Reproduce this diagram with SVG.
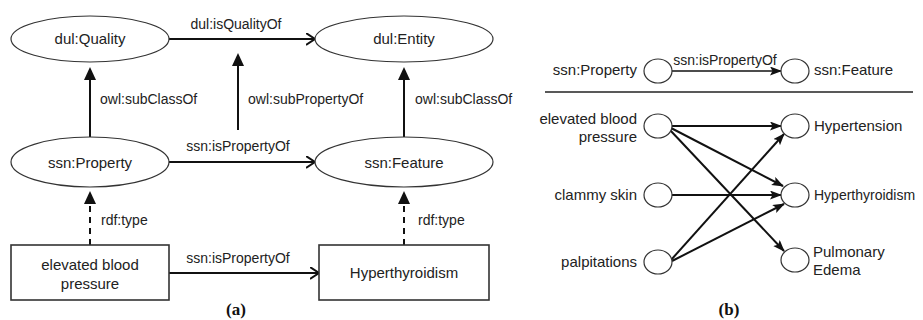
<svg xmlns="http://www.w3.org/2000/svg" width="923" height="320" viewBox="0 0 923 320">
  <style>
    text { font-family: "Liberation Sans", Arial, sans-serif; fill: #222; }
    .node { font-size: 15px; }
    .lbl { font-size: 14px; }
    .mid { text-anchor: middle; }
    .end { text-anchor: end; }
    .cap { font-family: "Liberation Serif", "Times New Roman", serif; font-weight: bold; font-size: 17px; text-anchor: middle; fill: #111; }
    .shape { fill: #fff; stroke: #333; stroke-width: 1.2; }
    .box { fill: #fff; stroke: #333; stroke-width: 1.6; }
    .edge { fill: none; stroke: #111; stroke-width: 2; }
    .dash { stroke-dasharray: 6 5; }
    .thin { stroke-width: 1.6; }
  </style>
  <defs>
    <marker id="tri" markerUnits="userSpaceOnUse" markerWidth="14" markerHeight="14" refX="1" refY="6" orient="auto">
      <path d="M0,0 L13,6 L0,12 z" fill="#111"/>
    </marker>
    <marker id="open" markerUnits="userSpaceOnUse" markerWidth="12" markerHeight="14" refX="9" refY="6" orient="auto">
      <path d="M0,0 L9,6 L0,12" fill="none" stroke="#111" stroke-width="2"/>
    </marker>
    <marker id="dart" markerUnits="userSpaceOnUse" markerWidth="13" markerHeight="10" refX="11" refY="4.5" orient="auto">
      <path d="M0,0 L12,4.5 L0,9 L2.5,4.5 z" fill="#111"/>
    </marker>
  </defs>

  <!-- (a) connectors -->
  <g id="edges-a">
    <path class="edge" d="M169,39 H315" marker-end="url(#open)"/>
    <text class="lbl mid" x="236" y="29">dul:isQualityOf</text>

    <path class="edge" d="M90,137 V79" marker-end="url(#tri)"/>
    <text class="lbl" x="100" y="104">owl:subClassOf</text>

    <path class="edge" d="M238,130 V65" marker-end="url(#tri)"/>
    <text class="lbl" x="248" y="104">owl:subPropertyOf</text>

    <path class="edge" d="M404,137 V79" marker-end="url(#tri)"/>
    <text class="lbl" x="415" y="104">owl:subClassOf</text>

    <path class="edge" d="M169,162 H315" marker-end="url(#open)"/>
    <text class="lbl mid" x="238" y="151">ssn:isPropertyOf</text>

    <path class="edge dash" d="M90,245 V203" marker-end="url(#tri)"/>
    <text class="lbl" x="101" y="225">rdf:type</text>

    <path class="edge dash" d="M404,245 V203" marker-end="url(#tri)"/>
    <text class="lbl" x="418" y="225">rdf:type</text>

    <path class="edge" d="M169,273 H319" marker-end="url(#open)"/>
    <text class="lbl mid" x="238" y="263">ssn:isPropertyOf</text>
  </g>

  <!-- (a) nodes -->
  <g id="dul-quality">
    <ellipse class="shape" cx="90" cy="39" rx="79" ry="23"/>
    <text class="node mid" x="90" y="44">dul:Quality</text>
  </g>
  <g id="dul-entity">
    <ellipse class="shape" cx="404" cy="39" rx="89" ry="23"/>
    <text class="node mid" x="404" y="44">dul:Entity</text>
  </g>
  <g id="ssn-property">
    <ellipse class="shape" cx="90" cy="162" rx="79" ry="25"/>
    <text class="node mid" x="90" y="168">ssn:Property</text>
  </g>
  <g id="ssn-feature">
    <ellipse class="shape" cx="404" cy="162" rx="89" ry="25"/>
    <text class="node mid" x="404" y="168">ssn:Feature</text>
  </g>
  <g id="elevated-blood-pressure">
    <rect class="box" x="11" y="245" width="158" height="55"/>
    <text class="node mid" x="90" y="270">elevated blood</text>
    <text class="node mid" x="90" y="289">pressure</text>
  </g>
  <g id="hyperthyroidism">
    <rect class="box" x="319" y="245" width="170" height="55"/>
    <text class="node mid" x="404" y="278">Hyperthyroidism</text>
  </g>
  <text class="cap" x="236" y="315">(a)</text>

  <!-- (b) connectors -->
  <g id="edges-b">
    <path class="edge thin" d="M672,71 H781" marker-end="url(#dart)"/>
    <text class="lbl mid" x="725" y="65">ssn:isPropertyOf</text>
    <line x1="545" y1="92" x2="913" y2="92" stroke="#222" stroke-width="1.4"/>

    <path class="edge" d="M672,126 H781" marker-end="url(#dart)"/>
    <path class="edge" d="M671,128 L783,186" marker-end="url(#dart)"/>
    <path class="edge" d="M670,130 L784,251" marker-end="url(#dart)"/>
    <path class="edge" d="M672,195 H781" marker-end="url(#dart)"/>
    <path class="edge" d="M671,260 L784,134" marker-end="url(#dart)"/>
    <path class="edge" d="M672,261 L784,204" marker-end="url(#dart)"/>
  </g>

  <!-- (b) nodes -->
  <g id="b-ssn-property">
    <ellipse class="shape" cx="658" cy="71" rx="14" ry="12"/>
    <text class="node end" x="637" y="75">ssn:Property</text>
  </g>
  <g id="b-ssn-feature">
    <ellipse class="shape" cx="795" cy="71" rx="14" ry="12"/>
    <text class="node" x="814" y="75">ssn:Feature</text>
  </g>
  <g id="b-elevated-blood-pressure">
    <ellipse class="shape" cx="658" cy="126" rx="14" ry="12"/>
    <text class="node end" x="637" y="124">elevated blood</text>
    <text class="node end" x="637" y="142">pressure</text>
  </g>
  <g id="b-clammy-skin">
    <ellipse class="shape" cx="658" cy="195" rx="14" ry="12"/>
    <text class="node end" x="637" y="200">clammy skin</text>
  </g>
  <g id="b-palpitations">
    <ellipse class="shape" cx="658" cy="262" rx="14" ry="12"/>
    <text class="node end" x="637" y="267">palpitations</text>
  </g>
  <g id="b-hypertension">
    <ellipse class="shape" cx="795" cy="126" rx="14" ry="12"/>
    <text class="node" x="814" y="131">Hypertension</text>
  </g>
  <g id="b-hyperthyroidism">
    <ellipse class="shape" cx="795" cy="195" rx="14" ry="12"/>
    <text class="node" x="814" y="200" style="font-size:14px">Hyperthyroidism</text>
  </g>
  <g id="b-pulmonary-edema">
    <ellipse class="shape" cx="795" cy="260" rx="14" ry="12"/>
    <text class="node" x="813" y="257">Pulmonary</text>
    <text class="node" x="813" y="275">Edema</text>
  </g>
  <text class="cap" x="729" y="315">(b)</text>
</svg>
